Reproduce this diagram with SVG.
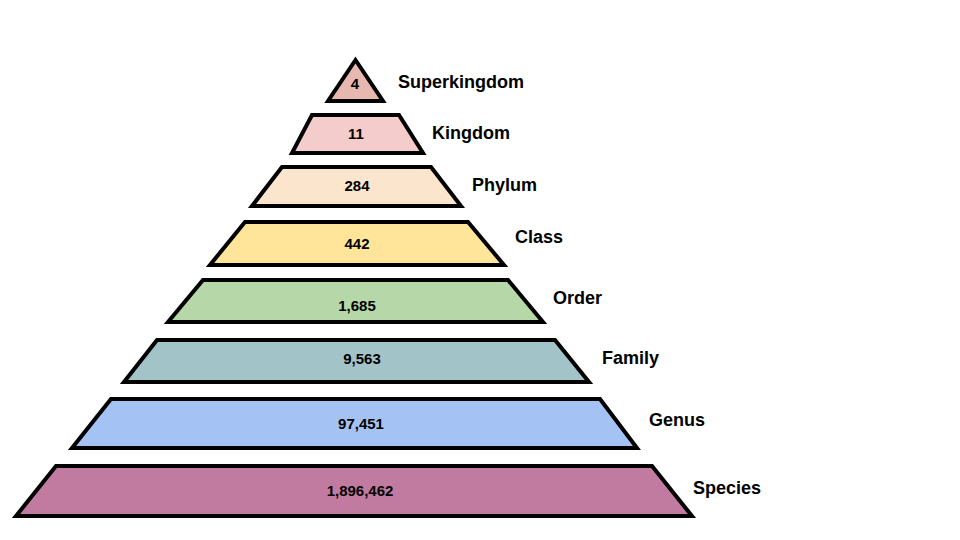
<svg xmlns="http://www.w3.org/2000/svg" width="960" height="540" viewBox="0 0 960 540">
<style>
.tier{stroke:#000;stroke-width:4;stroke-linejoin:miter}
.num{font-family:"Liberation Sans",Arial,sans-serif;font-weight:bold;font-size:15px;fill:#000;text-anchor:middle}
.lbl{font-family:"Liberation Sans",Arial,sans-serif;font-weight:bold;font-size:18px;fill:#000}
</style>
<rect width="960" height="540" fill="#fff"/>
<g id="superkingdom"><polygon class="tier" fill="#e6b8af" points="355.5,60 383,101 328,101"/><text class="num" x="355" y="89">4</text><text class="lbl" x="398" y="88">Superkingdom</text></g>
<g id="kingdom"><polygon class="tier" fill="#f4cccc" points="312,115 399,115 423,153 292,153"/><text class="num" x="356" y="139">11</text><text class="lbl" x="432" y="139">Kingdom</text></g>
<g id="phylum"><polygon class="tier" fill="#fce5cd" points="282,167 431,167 461,206 252,206"/><text class="num" x="357" y="191">284</text><text class="lbl" x="472" y="191">Phylum</text></g>
<g id="class"><polygon class="tier" fill="#ffe599" points="245,222 468,222 504,265 210,265"/><text class="num" x="357" y="249">442</text><text class="lbl" x="515" y="243">Class</text></g>
<g id="order"><polygon class="tier" fill="#b6d7a8" points="203,280 508,280 543,322 168,322"/><text class="num" x="357" y="311">1,685</text><text class="lbl" x="553" y="304">Order</text></g>
<g id="family"><polygon class="tier" fill="#a2c4c9" points="157,340 555,340 589,382 124,382"/><text class="num" x="362" y="364">9,563</text><text class="lbl" x="602" y="364">Family</text></g>
<g id="genus"><polygon class="tier" fill="#a4c2f4" points="111,399 600,399 637,448 72,448"/><text class="num" x="361" y="429">97,451</text><text class="lbl" x="649" y="426">Genus</text></g>
<g id="species"><polygon class="tier" fill="#c27ba0" points="56,466 652,466 692,516 16,516"/><text class="num" x="360" y="496">1,896,462</text><text class="lbl" x="693" y="494">Species</text></g>
<g id="connectors"/>
</svg>
